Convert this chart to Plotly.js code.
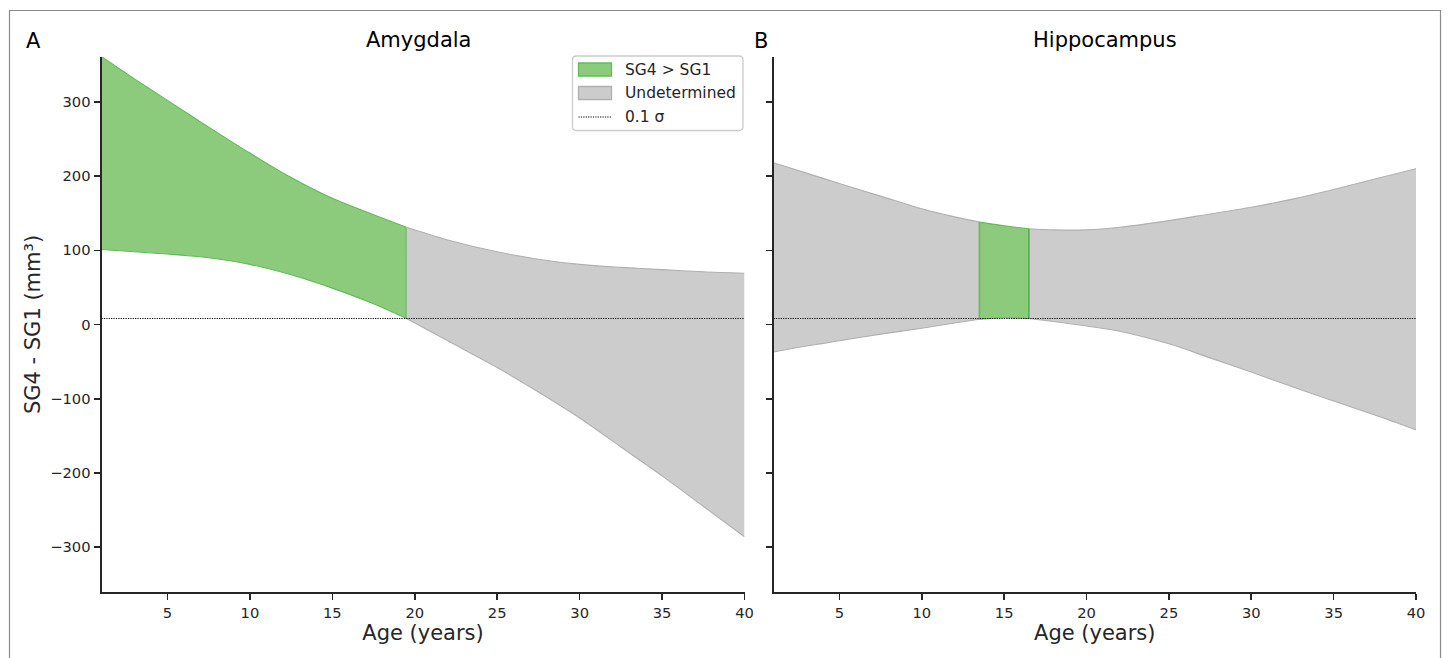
<!DOCTYPE html>
<html>
<head>
<meta charset="utf-8">
<script src="https://cdn.plot.ly/plotly-3.0.1.min.js"></script>
<style>html,body{margin:0;padding:0;background:#fff;}#chart{width:1448px;height:658px;}</style>
</head>
<body>
<div id="chart"></div>
<script>
// ---- Data ----
const amyAge   = [1, 3, 5, 7.5, 10, 12.5, 15, 17.5, 19.5, 22, 25, 27.5, 30, 32.5, 35, 37.5, 40];
const amyUpper = [361, 331, 302, 266, 231, 198, 170, 148, 131, 114, 98, 88, 81, 77, 74, 71, 69];
const amyLower = [101, 98, 95, 90, 81, 67, 49, 28, 8, -22, -58, -91, -126, -165, -204, -245, -286];
const amyGreen = [1, 19.5];          // ages where SG4 > SG1

const hipAge   = [1, 3, 5, 7.5, 10, 12, 13.5, 15, 16.5, 18, 20, 22, 25, 27.5, 30, 32.5, 35, 37.5, 40];
const hipUpper = [218, 204, 190, 173, 156, 145, 138, 133, 129, 127.5, 127.5, 131, 140, 149, 158, 169, 182, 196, 210];
const hipLower = [-37, -29, -22, -13, -5, 2, 7, 9, 8, 4, -2, -9, -26, -45, -64, -84, -103, -122, -142];
const hipGreen = [13.5, 16.5];

const sigmaAge = [1, 40];
const sigmaVal = [8, 8];

const xTicks = [5, 10, 15, 20, 25, 30, 35, 40];
const yTicks = [-300, -200, -100, 0, 100, 200, 300];
const yTickText = ['\u2212300', '\u2212200', '\u2212100', '0', '100', '200', '300'];

const legendNames = ['SG4 &gt; SG1', 'Undetermined', '0.1 \u03c3'];
const panelTitles = ['Amygdala', 'Hippocampus'];
const panelLetters = ['A', 'B'];

// ---- Styles ----
const GREEN_FILL = 'rgb(140,203,124)';
const GREEN_EDGE = 'rgb(100,185,92)';
const GREEN_EDGE_V = 'rgb(80,175,80)';
const GREY_FILL = 'rgb(204,204,204)';
const GREY_EDGE = 'rgb(176,176,176)';
const TXT = '#262626';
const FONT = 'DejaVu Sans, sans-serif';
const DOTS = '1.2px,1.2px';

function seg(ages, vals, a, b) {
  const xs = [], ys = [];
  ages.forEach((t, i) => { if (t >= a - 1e-9 && t <= b + 1e-9) { xs.push(t); ys.push(vals[i]); } });
  return { x: xs, y: ys };
}

const traces = [];
function band(ages, up, lo, a, b, fill, edge, xa, ya, edges) {
  const L = seg(ages, lo, a, b), U = seg(ages, up, a, b);
  traces.push({ type: 'scatter', mode: 'lines', x: L.x, y: L.y, xaxis: xa, yaxis: ya,
    line: { color: edge, width: 1.1, shape: 'spline', smoothing: 0.9 }, showlegend: false, hoverinfo: 'skip' });
  traces.push({ type: 'scatter', mode: 'lines', x: U.x, y: U.y, xaxis: xa, yaxis: ya,
    fill: 'tonexty', fillcolor: fill,
    line: { color: edge, width: 1.1, shape: 'spline', smoothing: 0.9 }, showlegend: false, hoverinfo: 'skip' });
  edges.forEach(k => {
    const i = k === 0 ? 0 : L.x.length - 1;
    traces.push({ type: 'scatter', mode: 'lines', x: [L.x[i], U.x[i]], y: [L.y[i], U.y[i]], xaxis: xa, yaxis: ya,
      line: { color: k === 0 ? GREEN_EDGE : GREEN_EDGE_V, width: 1.6 }, showlegend: false, hoverinfo: 'skip' });
  });
}

// Amygdala
band(amyAge, amyUpper, amyLower, amyGreen[0], amyGreen[1], GREEN_FILL, GREEN_EDGE, 'x', 'y', [1]);
band(amyAge, amyUpper, amyLower, amyGreen[1], amyAge[amyAge.length - 1], GREY_FILL, GREY_EDGE, 'x', 'y', []);
// Hippocampus
band(hipAge, hipUpper, hipLower, hipAge[0], hipGreen[0], GREY_FILL, GREY_EDGE, 'x2', 'y2', []);
band(hipAge, hipUpper, hipLower, hipGreen[1], hipAge[hipAge.length - 1], GREY_FILL, GREY_EDGE, 'x2', 'y2', []);
band(hipAge, hipUpper, hipLower, hipGreen[0], hipGreen[1], GREEN_FILL, GREEN_EDGE, 'x2', 'y2', [0, 1]);

// sigma lines
traces.push({ type: 'scatter', mode: 'lines', x: sigmaAge, y: sigmaVal, xaxis: 'x', yaxis: 'y',
  line: { color: '#000', width: 1.1, dash: DOTS }, showlegend: false, hoverinfo: 'skip' });
traces.push({ type: 'scatter', mode: 'lines', x: sigmaAge, y: sigmaVal, xaxis: 'x2', yaxis: 'y2',
  line: { color: '#000', width: 1.1, dash: DOTS }, showlegend: false, hoverinfo: 'skip' });

const W = 1448, H = 658;
const px = v => v / W, py = v => 1 - v / H;

function xaxis(dom, anchor) {
  return {
    domain: dom, range: [1, 40], anchor: anchor, showline: true, linecolor: TXT, linewidth: 2,
    ticks: 'outside', ticklen: 6, tickwidth: 1.6, tickcolor: TXT,
    tickvals: xTicks, showgrid: false, zeroline: false,
    tickfont: { family: FONT, size: 14.7, color: TXT },
    title: { text: 'Age (years)', font: { family: FONT, size: 21, color: TXT }, standoff: 4 },
    fixedrange: true
  };
}
function yaxis(anchor, labels) {
  return {
    domain: [py(592), py(57)], range: [-360.5, 360.5], anchor: anchor,
    showline: true, linecolor: TXT, linewidth: 2,
    ticks: 'outside', ticklen: 6, tickwidth: 1.6, tickcolor: TXT,
    tickvals: yTicks, ticktext: yTickText, showticklabels: labels,
    showgrid: false, zeroline: false,
    tickfont: { family: FONT, size: 14.7, color: TXT },
    title: labels ? { text: 'SG4 - SG1 (mm\u00b3)', font: { family: FONT, size: 21, color: TXT }, standoff: 4 } : { text: '' },
    fixedrange: true
  };
}

const ann = (text, x, y, size, xanchor, color) => ({ text: text, x: x, y: y, xref: 'paper', yref: 'paper',
  xanchor: xanchor || 'center', yanchor: 'middle', showarrow: false, borderpad: 0,
  font: { family: FONT, size: size, color: color || '#000' } });

// legend box (rounded rectangle) in pixel geometry
function roundRect(x0, y0, x1, y1, r) {
  const X = v => px(v).toFixed(6), Y = v => py(v).toFixed(6);
  return 'M' + X(x0 + r) + ',' + Y(y0) + ' L' + X(x1 - r) + ',' + Y(y0) +
    ' Q' + X(x1) + ',' + Y(y0) + ' ' + X(x1) + ',' + Y(y0 + r) +
    ' L' + X(x1) + ',' + Y(y1 - r) + ' Q' + X(x1) + ',' + Y(y1) + ' ' + X(x1 - r) + ',' + Y(y1) +
    ' L' + X(x0 + r) + ',' + Y(y1) + ' Q' + X(x0) + ',' + Y(y1) + ' ' + X(x0) + ',' + Y(y1 - r) +
    ' L' + X(x0) + ',' + Y(y0 + r) + ' Q' + X(x0) + ',' + Y(y0) + ' ' + X(x0 + r) + ',' + Y(y0) + ' Z';
}
const LG = { x0: 572.5, y0: 56, x1: 743, y1: 130.5, px0: 578.5, px1: 611.5, tx: 623.5, rows: [69.5, 93, 117] };

const shapes = [
  { type: 'rect', xref: 'paper', yref: 'paper', x0: px(9.5), x1: px(1440.5), y0: py(668), y1: py(10.5),
    line: { color: '#8a8a8a', width: 1.2 }, fillcolor: 'rgba(0,0,0,0)', layer: 'below' },
  { type: 'path', xref: 'paper', yref: 'paper', path: roundRect(LG.x0, LG.y0, LG.x1, LG.y1, 4),
    fillcolor: 'rgba(255,255,255,0.8)', line: { color: '#cccccc', width: 1.3 }, layer: 'above' },
  { type: 'rect', xref: 'paper', yref: 'paper', x0: px(LG.px0), x1: px(LG.px1), y0: py(LG.rows[0] + 6.5), y1: py(LG.rows[0] - 6.5),
    fillcolor: GREEN_FILL, line: { color: GREEN_EDGE, width: 1.3 }, layer: 'above' },
  { type: 'rect', xref: 'paper', yref: 'paper', x0: px(LG.px0), x1: px(LG.px1), y0: py(LG.rows[1] + 6.5), y1: py(LG.rows[1] - 6.5),
    fillcolor: GREY_FILL, line: { color: GREY_EDGE, width: 1.3 }, layer: 'above' },
  { type: 'line', xref: 'paper', yref: 'paper', x0: px(LG.px0), x1: px(LG.px1), y0: py(LG.rows[2]), y1: py(LG.rows[2]),
    line: { color: '#000', width: 1.1, dash: DOTS }, layer: 'above' }
];

const layout = {
  width: W, height: H,
  margin: { l: 0, r: 0, t: 0, b: 0 },
  paper_bgcolor: '#fff', plot_bgcolor: 'rgba(0,0,0,0)',
  font: { family: FONT, color: TXT },
  xaxis: xaxis([px(101.5), px(744.5)], 'y'), yaxis: yaxis('x', true),
  xaxis2: xaxis([px(773.5), px(1416)], 'y2'), yaxis2: yaxis('x2', false),
  showlegend: false,
  annotations: [
    ann(panelTitles[0], px(418), py(40), 21),
    ann(panelTitles[1], px(1105), py(40), 21),
    ann(panelLetters[0], px(33), py(41), 21),
    ann(panelLetters[1], px(761), py(41), 21),
    ann(legendNames[0], px(LG.tx), py(LG.rows[0]), 15.5, 'left', TXT),
    ann(legendNames[1], px(LG.tx), py(LG.rows[1]), 15.5, 'left', TXT),
    ann(legendNames[2], px(LG.tx), py(LG.rows[2]), 15.5, 'left', TXT)
  ],
  shapes: shapes
};

Plotly.newPlot('chart', traces, layout, { staticPlot: true, displayModeBar: false });
</script>
</body>
</html>
